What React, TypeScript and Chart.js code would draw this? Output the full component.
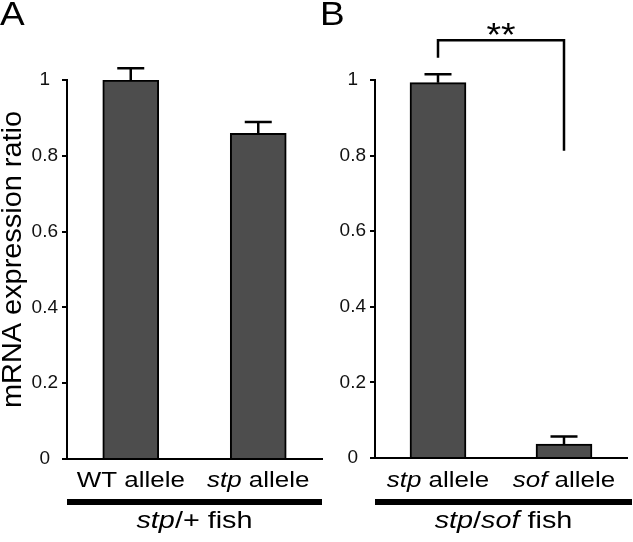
import React, { useEffect, useRef } from "react";
import { Chart, registerables } from "chart.js";

Chart.register(...registerables);

// ---------- data ----------
const categoriesA = ["WT allele", "stp allele"];
const valuesA = [1.0, 0.859];
const errorsA = [0.031, 0.03];
const groupLabelA = "stp/+ fish";

const categoriesB = ["stp allele", "sof allele"];
const valuesB = [0.993, 0.037];
const errorsB = [0.022, 0.02];
const groupLabelB = "stp/sof fish";

const yMin = 0;
const yMax = 1;
const yStep = 0.2;
const yTitle = "mRNA expression ratio";
const panelLetters = ["A", "B"];
const significanceMark = "**";
// bracket levels (in y units) for panel B: top bar, left leg end, right leg end
const bracketLevels = [1.105, 1.059, 0.813];
const italicWords = ["stp", "sof"];

// ---------- styles ----------
const FONT = '"Liberation Sans", Arial, Helvetica, sans-serif';
const BAR_FILL = "#4d4d4d";

function drawRich(ctx: CanvasRenderingContext2D, text: string, cx: number, y: number, size: number, sx: number) {
  const re = new RegExp("(" + italicWords.join("|") + ")", "g");
  const segs = text
    .split(re)
    .filter((p) => p.length > 0)
    .map((p) => ({ t: p, it: italicWords.includes(p), w: 0 }));
  let total = 0;
  for (const s of segs) {
    ctx.font = (s.it ? "italic " : "") + size + "px " + FONT;
    s.w = ctx.measureText(s.t).width;
    total += s.w;
  }
  ctx.save();
  ctx.translate(cx, y);
  ctx.scale(sx, 1);
  ctx.textAlign = "left";
  ctx.textBaseline = "alphabetic";
  ctx.fillStyle = "#000";
  let x = -total / 2;
  for (const s of segs) {
    ctx.font = (s.it ? "italic " : "") + size + "px " + FONT;
    ctx.fillText(s.t, x, 0);
    x += s.w;
  }
  ctx.restore();
}

type PanelProps = {
  categories: string[];
  values: number[];
  errors: number[];
  groupLabel: string;
  letter: string;
  left: number;
  width: number;
  yAxisWidth: number;
  padRight: number;
  xAxisHeight: number;
  lineExtra: number;
  showTitle: boolean;
  bracket: boolean;
};

function Panel(p: PanelProps) {
  const ref = useRef<HTMLCanvasElement | null>(null);
  useEffect(() => {
    if (!ref.current) return;
    const decor = {
      id: "decor" + p.letter,
      afterDatasetsDraw(chart: any) {
        const ctx = chart.ctx as CanvasRenderingContext2D;
        const xs = chart.scales.x;
        const ys = chart.scales.y;
        ctx.save();
        ctx.strokeStyle = "#000";
        ctx.lineWidth = 2.5;
        p.values.forEach((v, i) => {
          const cx = xs.getPixelForValue(i);
          const base = ys.getPixelForValue(v);
          const top = ys.getPixelForValue(v + p.errors[i]);
          ctx.beginPath();
          ctx.moveTo(cx, base);
          ctx.lineTo(cx, top);
          ctx.moveTo(cx - 13.5, top);
          ctx.lineTo(cx + 13.5, top);
          ctx.stroke();
        });
        if (p.bracket) {
          const x0 = xs.getPixelForValue(0);
          const x1 = xs.getPixelForValue(1);
          const yt = ys.getPixelForValue(bracketLevels[0]);
          const yl = ys.getPixelForValue(bracketLevels[1]);
          const yr = ys.getPixelForValue(bracketLevels[2]);
          ctx.beginPath();
          ctx.moveTo(x0, yl);
          ctx.lineTo(x0, yt);
          ctx.lineTo(x1, yt);
          ctx.lineTo(x1, yr);
          ctx.lineJoin = "miter";
          ctx.stroke();
          ctx.save();
          ctx.translate((x0 + x1) / 2, yt + 6);
          ctx.scale(1.1, 1);
          ctx.font = "34px " + FONT;
          ctx.textAlign = "center";
          ctx.textBaseline = "alphabetic";
          ctx.fillStyle = "#000";
          ctx.fillText(significanceMark, 0, 0);
          ctx.restore();
        }
        ctx.restore();
      },
      afterDraw(chart: any) {
        const ctx = chart.ctx as CanvasRenderingContext2D;
        const xs = chart.scales.x;
        const area = chart.chartArea;
        // category labels
        p.categories.forEach((c, i) => {
          drawRich(ctx, c, xs.getPixelForValue(i), 487, 22, 1.18);
        });
        // thick group line
        ctx.save();
        ctx.strokeStyle = "#000";
        ctx.lineWidth = 6;
        ctx.beginPath();
        ctx.moveTo(area.left, 502);
        ctx.lineTo(area.right + p.lineExtra, 502);
        ctx.stroke();
        ctx.restore();
        drawRich(ctx, p.groupLabel, (area.left + area.right + p.lineExtra) / 2, 528, 24, 1.2);
        // panel letter
        ctx.save();
        ctx.translate(0, 25);
        ctx.scale(1.12, 1);
        ctx.font = "33px " + FONT;
        ctx.textAlign = "left";
        ctx.textBaseline = "alphabetic";
        ctx.fillStyle = "#000";
        ctx.fillText(p.letter, 0, 0);
        ctx.restore();
        // y title
        if (p.showTitle) {
          ctx.save();
          ctx.translate(21, (area.top + area.bottom) / 2 - 10);
          ctx.rotate(-Math.PI / 2);
          ctx.scale(1.07, 1);
          ctx.font = "27px " + FONT;
          ctx.textAlign = "center";
          ctx.textBaseline = "alphabetic";
          ctx.fillStyle = "#000";
          ctx.fillText(yTitle, 0, 0);
          ctx.restore();
        }
      },
    };

    const chart = new Chart(ref.current, {
      type: "bar",
      data: {
        labels: p.categories,
        datasets: [
          {
            data: p.values,
            backgroundColor: BAR_FILL,
            borderColor: "#000",
            borderWidth: 2,
            barThickness: 56,
          },
        ],
      },
      options: {
        animation: false,
        responsive: false,
        devicePixelRatio: 1,
        layout: { padding: { top: 80, right: p.padRight, left: 0, bottom: 0 } },
        plugins: { legend: { display: false }, tooltip: { enabled: false }, title: { display: false } },
        scales: {
          x: {
            type: "category",
            offset: true,
            grid: { display: false },
            border: { display: true, color: "#000", width: 2 },
            ticks: { display: false },
            afterFit: (s: any) => {
              s.height = p.xAxisHeight;
            },
          },
          y: {
            min: yMin,
            max: yMax,
            ticks: {
              stepSize: yStep,
              color: "#111",
              font: { family: FONT, size: 19 },
              crossAlign: "center",
              padding: 4,
              callback: (v: any) => String(Number(Number(v).toFixed(1))),
            },
            grid: { display: true, drawOnChartArea: false, drawTicks: true, tickLength: 5, color: "#000", lineWidth: 2 },
            border: { display: true, color: "#000", width: 2 },
            afterFit: (s: any) => {
              s.width = p.yAxisWidth;
            },
          },
        },
      },
      plugins: [decor],
    } as any);
    return () => chart.destroy();
  }, []);
  return (
    <canvas
      ref={ref}
      width={p.width}
      height={542}
      style={{ position: "absolute", left: p.left, top: 0, width: p.width, height: 542, display: "block" }}
    />
  );
}

export default function App() {
  return (
    <div style={{ position: "absolute", left: 0, top: 0, width: 633, height: 542, background: "#fff", overflow: "hidden" }}>
      <Panel
        categories={categoriesA}
        values={valuesA}
        errors={errorsA}
        groupLabel={groupLabelA}
        letter={panelLetters[0]}
        left={0}
        width={325}
        yAxisWidth={67}
        padRight={3}
        xAxisHeight={83}
        lineExtra={0}
        showTitle={true}
        bracket={false}
      />
      <Panel
        categories={categoriesB}
        values={valuesB}
        errors={errorsB}
        groupLabel={groupLabelB}
        letter={panelLetters[1]}
        left={320}
        width={313}
        yAxisWidth={55}
        padRight={6}
        xAxisHeight={84}
        lineExtra={5}
        showTitle={false}
        bracket={true}
      />
    </div>
  );
}
